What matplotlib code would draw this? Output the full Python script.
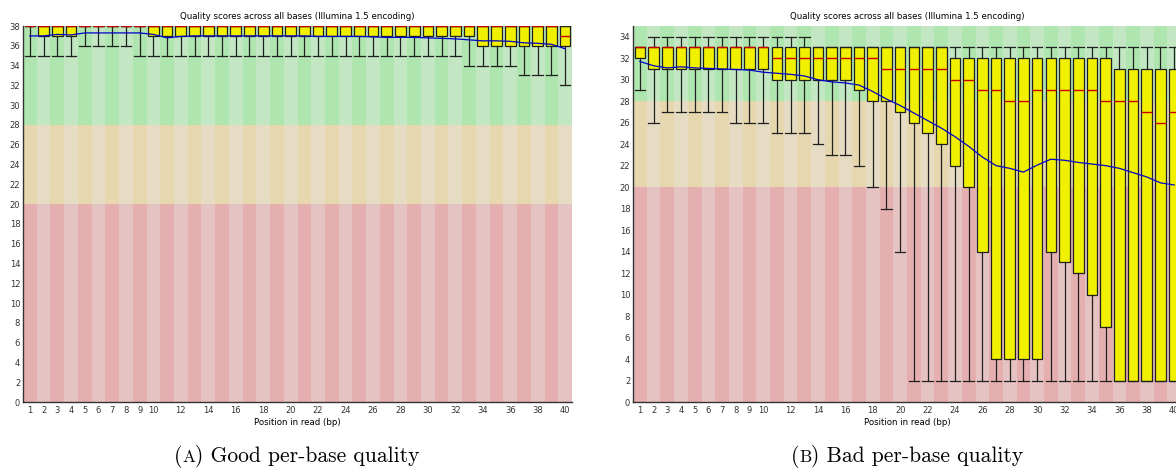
import matplotlib.pyplot as plt

# per-base quality summaries, one entry per read position (1..40)
positions = list(range(1, 41))
tick_labels = [str(p) if p <= 10 or p % 2 == 0 else "" for p in positions]

# good run
good_whislo = [35, 35, 35, 35, 36, 36, 36, 36, 35, 35,
               35, 35, 35, 35, 35, 35, 35, 35, 35, 35,
               35, 35, 35, 35, 35, 35, 35, 35, 35, 35,
               35, 35, 34, 34, 34, 34, 33, 33, 33, 32]
good_q1 = [38, 37, 37, 37, 38, 38, 38, 38, 38, 37,
           37, 37, 37, 37, 37, 37, 37, 37, 37, 37,
           37, 37, 37, 37, 37, 37, 37, 37, 37, 37,
           37, 37, 37, 36, 36, 36, 36, 36, 36, 36]
good_med = [38] * 39 + [37]
good_q3 = [38] * 40
good_whishi = [38] * 40
good_mean = [37.0, 37.0, 37.15, 37.1, 37.3, 37.3, 37.3, 37.3, 37.3, 37.15,
             36.8, 36.95, 37.0, 37.0, 37.0, 37.0, 37.0, 37.0, 37.0, 37.0,
             37.0, 36.95, 36.95, 36.95, 36.95, 36.9, 36.85, 36.85, 36.85, 36.8,
             36.75, 36.7, 36.6, 36.5, 36.5, 36.45, 36.3, 36.25, 36.15, 35.7]

# bad run
bad_whislo = [29, 26, 27, 27, 27, 27, 27, 26, 26, 26,
              25, 25, 25, 24, 23, 23, 22, 20, 18, 14,
              2, 2, 2, 2, 2, 2, 2, 2, 2, 2,
              2, 2, 2, 2, 2, 2, 2, 2, 2, 2]
bad_q1 = [32, 31, 31, 31, 31, 31, 31, 31, 31, 31,
          30, 30, 30, 30, 30, 30, 29, 28, 28, 27,
          26, 25, 24, 22, 20, 14, 4, 4, 4, 4,
          14, 13, 12, 10, 7, 2, 2, 2, 2, 2]
bad_med = [33, 33, 33, 33, 33, 33, 33, 33, 33, 33,
           32, 32, 32, 32, 32, 32, 32, 32, 31, 31,
           31, 31, 31, 30, 30, 29, 29, 28, 28, 29,
           29, 29, 29, 29, 28, 28, 28, 27, 26, 27]
bad_q3 = [33] * 23 + [32] * 12 + [31] * 5
bad_whishi = [33] + [34] * 12 + [33] * 27
bad_mean = [31.7, 31.3, 31.1, 31.2, 31.1, 31.05, 31.0, 30.95, 30.9, 30.7,
            30.6, 30.5, 30.35, 30.0, 29.8, 29.7, 29.5, 28.9, 28.2, 27.6,
            26.9, 26.2, 25.5, 24.7, 23.8, 22.8, 22.0, 21.75, 21.4, 22.05,
            22.6, 22.5, 22.3, 22.15, 22.0, 21.75, 21.35, 20.95, 20.4, 20.2]

title = "Quality scores across all bases (Illumina 1.5 encoding)"
xlabel = "Position in read (bp)"

# background bands: (bottom, top, dark, light)
bands = [(0, 20, "#E6AFAF", "#E6C3C3"),
         (20, 28, "#E6D7AF", "#E6DCC3"),
         (28, None, "#AFE6AF", "#C3E6C3")]

W, H = 1176, 473
fig = plt.figure(figsize=(W / 100, H / 100), dpi=100)


def quality_panel(rect, whislo, q1, med, q3, whishi, mean, ymax):
    ax = fig.add_axes(rect)
    for lo, hi, dark, light in bands:
        top = ymax if hi is None else hi
        cols = [dark if p % 2 else light for p in positions]
        ax.bar(positions, [top - lo] * len(positions), bottom=lo, width=1.0,
               color=cols, linewidth=0, zorder=0)

    stats = [dict(whislo=a, q1=b, med=c, q3=d, whishi=e, fliers=[])
             for a, b, c, d, e in zip(whislo, q1, med, q3, whishi)]
    ax.bxp(stats, positions=positions, widths=0.78, capwidths=0.78,
           patch_artist=True, showfliers=False, manage_ticks=False,
           boxprops=dict(facecolor="#F0F000", edgecolor="#202020", linewidth=0.9),
           medianprops=dict(color="#C80000", linewidth=1.0),
           whiskerprops=dict(color="#202020", linewidth=0.9),
           capprops=dict(color="#202020", linewidth=0.9), zorder=2)
    ax.plot(positions, mean, color="#0000C8", linewidth=0.9, zorder=3)

    ax.set_xlim(0.5, 40.5)
    ax.set_ylim(0, ymax)
    ax.set_xticks(positions)
    ax.set_xticklabels(tick_labels)
    ax.set_yticks(range(0, int(ymax) + 1, 2))
    ax.tick_params(length=0, labelsize=6, colors="#333333", pad=3)
    ax.tick_params(axis="y", pad=2)
    for side in ("top", "right"):
        ax.spines[side].set_visible(False)
    for side in ("left", "bottom"):
        ax.spines[side].set_color("#333333")
        ax.spines[side].set_linewidth(1.0)
    ax.set_title(title, fontsize=6.2, pad=5)
    ax.set_xlabel(xlabel, fontsize=6.2, labelpad=2)
    return ax


ax_h = (402 - 26) / H
ax_bottom = 1 - 402 / H
quality_panel([23 / W, ax_bottom, 549 / W, ax_h],
              good_whislo, good_q1, good_med, good_q3, good_whishi, good_mean, 38)
quality_panel([633 / W, ax_bottom, 548 / W, ax_h],
              bad_whislo, bad_q1, bad_med, bad_q3, bad_whishi, bad_mean, 35)


def caption(x_center, letter, rest, y=0.024, size=15.5):
    # "(A)" with a small-capital letter, then the rest in roman
    parts = [("(", size), (letter, size * 0.8), (") " + rest, size)]
    renderer = fig.canvas.get_renderer()
    texts = [fig.text(0, y, s, fontsize=fs, family="cmr10", va="baseline")
             for s, fs in parts]
    widths = [t.get_window_extent(renderer).width for t in texts]
    x = x_center * W - sum(widths) / 2
    for t, w in zip(texts, widths):
        t.set_x(x / W)
        x += w


caption(297 / W, "A", "Good per-base quality")
caption(907 / W, "B", "Bad per-base quality")

fig.savefig("out.png", dpi=100)
